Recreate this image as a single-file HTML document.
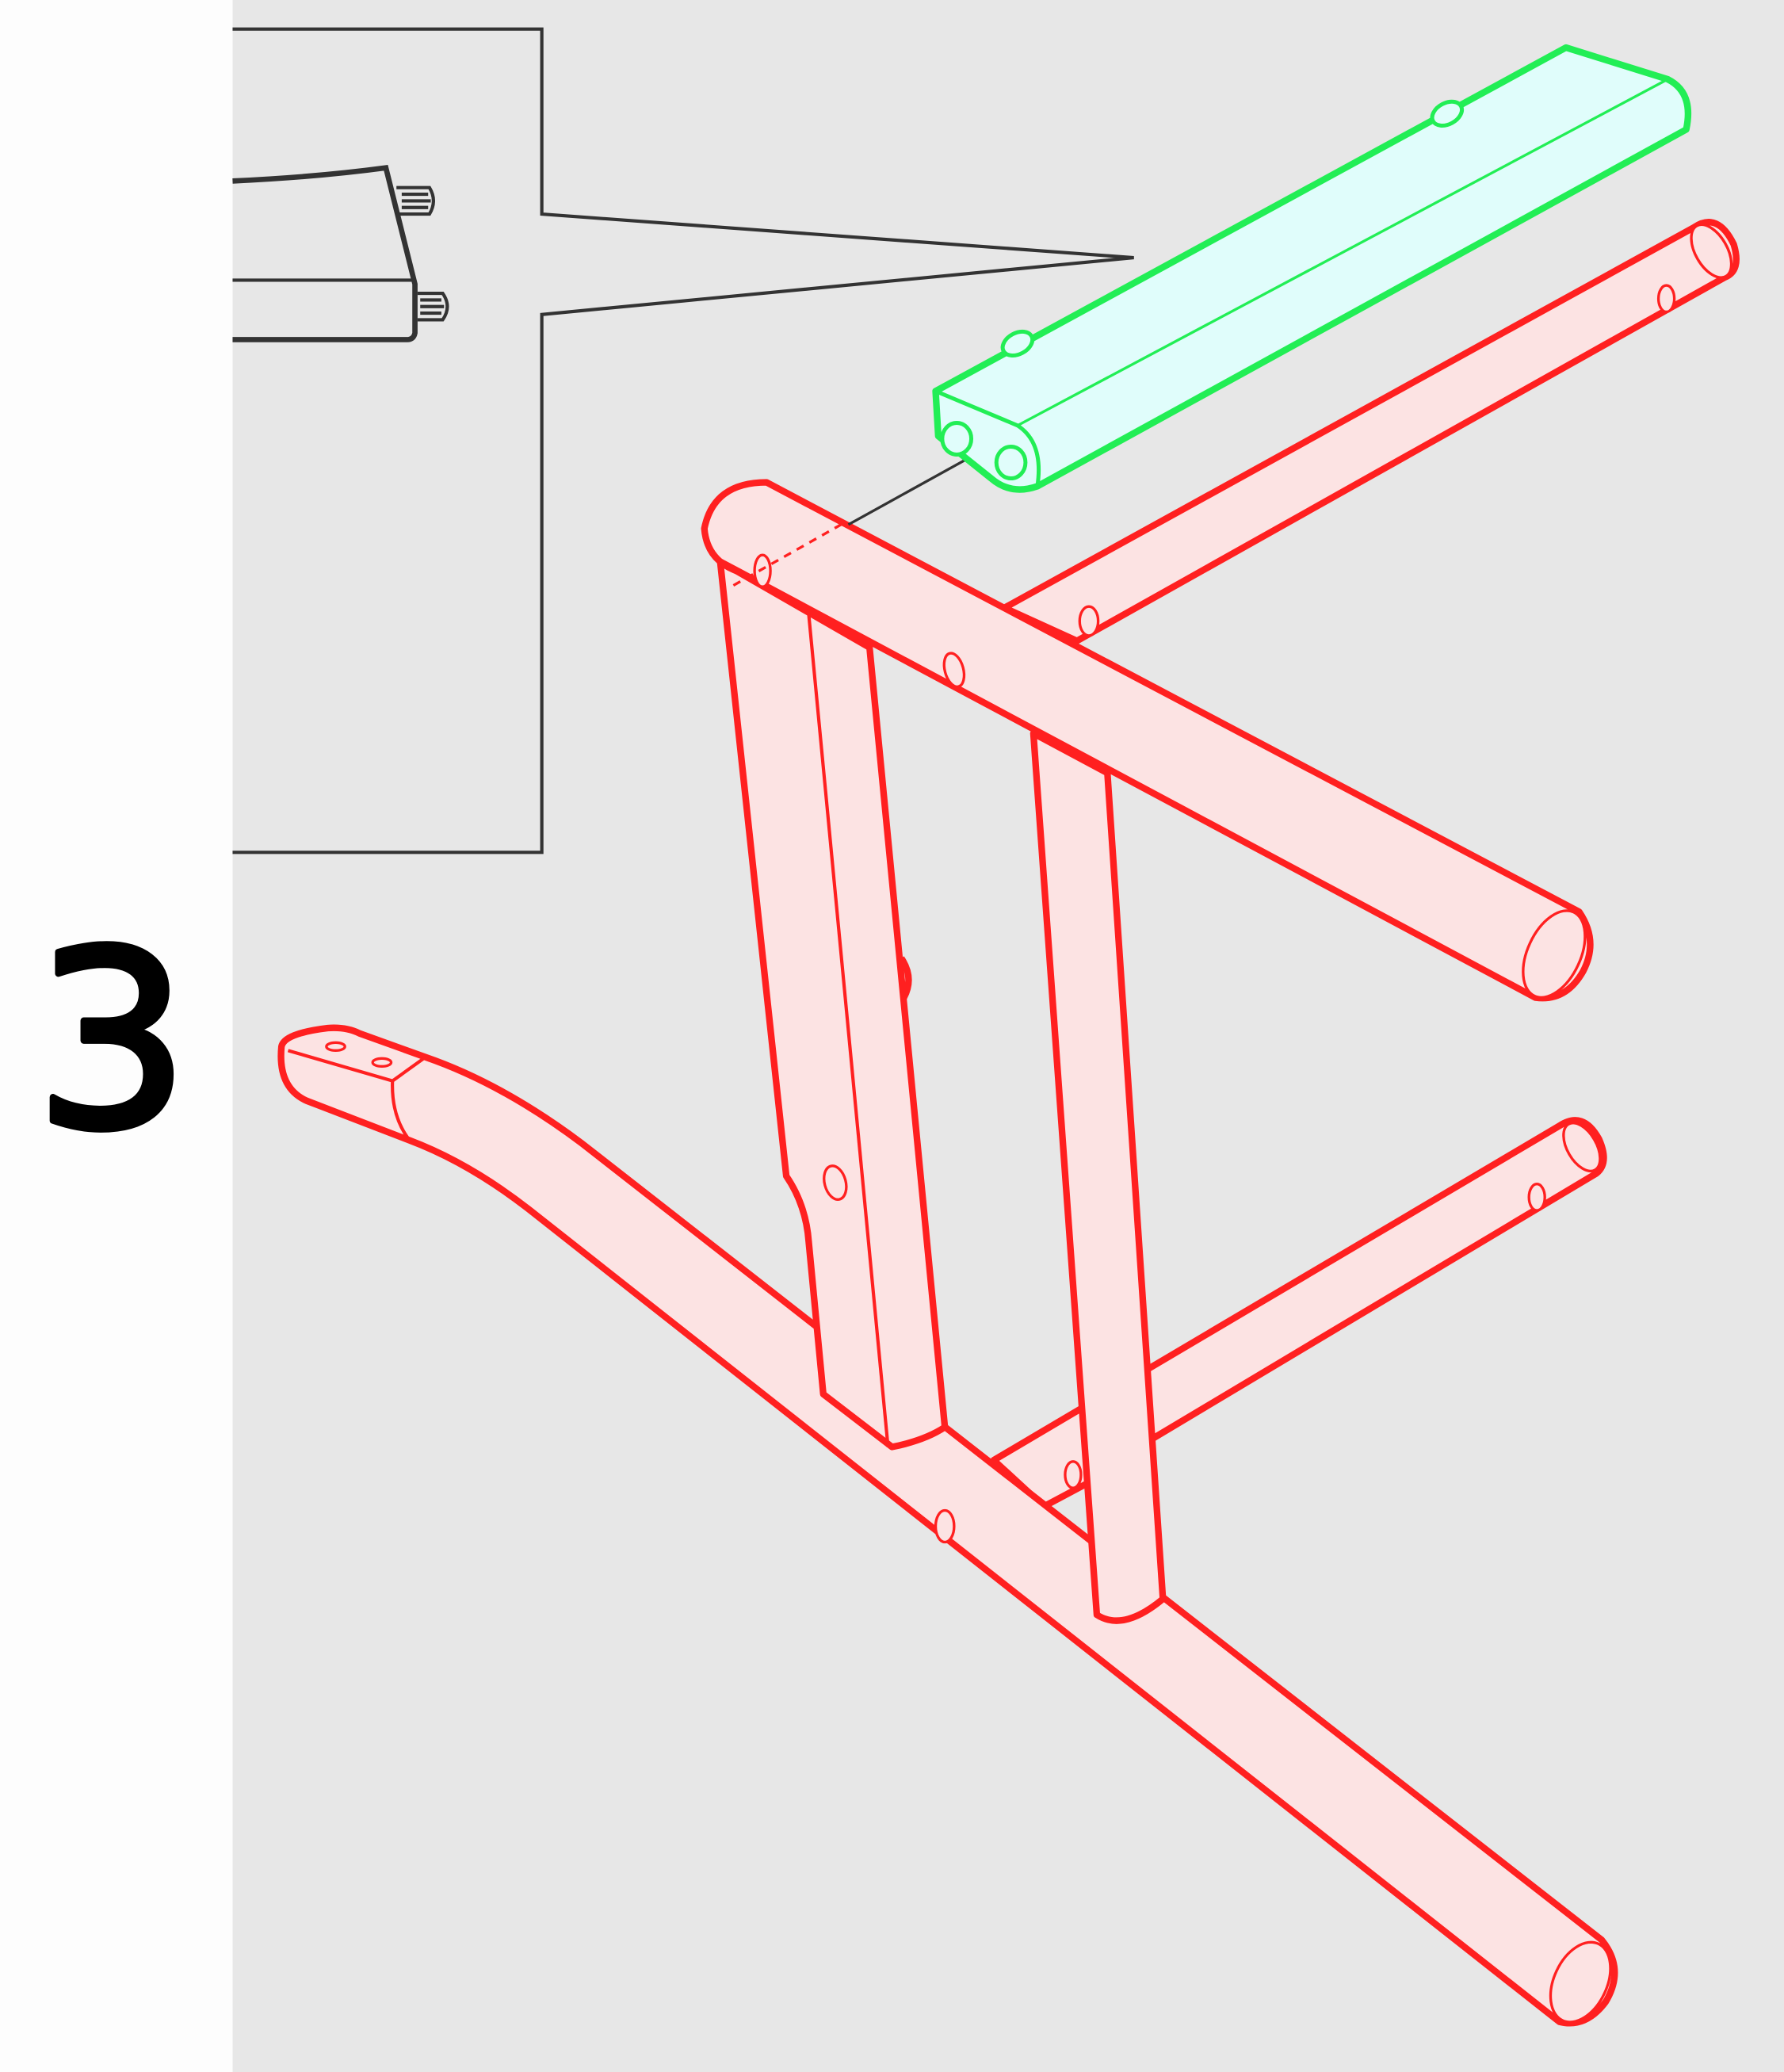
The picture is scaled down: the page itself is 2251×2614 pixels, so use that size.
<!DOCTYPE html>
<html><head><meta charset="utf-8"><style>
html,body{margin:0;padding:0;background:#fff}
svg{display:block}
</style></head><body>
<svg width="2251" height="2614" viewBox="0 0 1350 1568" preserveAspectRatio="none" xmlns="http://www.w3.org/2000/svg">
<rect x="0" y="0" width="176" height="1568" fill="#fdfdfd"/>
<rect x="176" y="0" width="1174" height="1568" fill="#e7e7e7"/>

<g fill="none" stroke="#333" stroke-width="2.5">
<path d="M176 22 H410 V162 L858 195 L410 238 V645 H176"/>
<g stroke-width="4">
<path d="M176 137 Q240 134 292 127 L314 215 V252 Q313 257 308 257 H176"/>
<path d="M176 212 H314" stroke-width="2.5"/>
</g>
<g stroke-width="2.5">
<path d="M300 142 H325 Q331 152 325 162 H300"/><path d="M304 147 H324 M304 152 H326 M304 157 H324"/>
<path d="M316 222 H335 Q342 232 335 242 H316"/><path d="M318 227 H334 M318 232 H336 M318 237 H334"/>
</g>
</g>

<text x="26" y="852" font-family="DejaVu Sans, sans-serif" font-size="185" font-weight="normal" fill="#000" stroke="#000" stroke-width="5" stroke-linejoin="round">3</text>

<g fill="#fce3e3" stroke="#ff2020" stroke-width="5" stroke-linejoin="round">
<path d="M760 460 L1282 172 Q1300 160 1312 185 Q1318 205 1305 210 L815 485 Z"/>
<ellipse cx="1295" cy="190" rx="12" ry="22" transform="rotate(-30 1295 190)" stroke-width="2"/>
<ellipse cx="1261" cy="226" rx="6" ry="10" stroke-width="2"/>
<ellipse cx="824" cy="470" rx="7" ry="11" stroke-width="2"/>

<path d="M752 1105 L1180 852 Q1198 840 1210 862 Q1218 880 1208 888 L870 1090 L865 1100 L790 1140 Z"/>
<ellipse cx="1197" cy="868" rx="11" ry="20" transform="rotate(-30 1197 868)" stroke-width="2"/>
<ellipse cx="1163" cy="906" rx="6" ry="10" stroke-width="2"/>
<ellipse cx="812" cy="1116" rx="6" ry="10" stroke-width="2"/>

<path d="M213 792 Q215 782 248 778 Q262 777 272 782 L322 800 Q380 820 440 865 L1212 1468 Q1230 1490 1215 1515 Q1200 1535 1180 1530 L400 915 Q355 880 310 863 L232 833 Q210 823 213 792 Z"/>
<path d="M218 795 L297 818 L322 800 M297 818 Q296 845 310 863" fill="none" stroke-width="2.5"/>
<ellipse cx="1196" cy="1500" rx="20" ry="32" transform="rotate(25 1196 1500)" stroke-width="2"/>
<ellipse cx="254" cy="792" rx="7" ry="3" stroke-width="2"/>
<ellipse cx="289" cy="804" rx="7" ry="3" stroke-width="2"/>
<ellipse cx="715" cy="1155" rx="7" ry="12" stroke-width="2"/>

<path d="M545 425 L595 890 Q610 912 612 940 L623 1055 L675 1095 Q700 1090 715 1080 L658 490 Z"/>
<path d="M612 465 L672 1095" fill="none" stroke-width="2.5"/>
<ellipse cx="632" cy="895" rx="8" ry="13" transform="rotate(-15 632 895)" stroke-width="2"/>
<path d="M682 725 Q692 740 684 755" fill="none"/>

<path d="M782 555 L830 1222 Q850 1235 880 1210 L838 585 Z"/>

<path d="M580 365 L1195 690 Q1210 712 1198 735 Q1185 758 1162 755 L560 433 Q535 425 533 400 Q540 365 580 365 Z"/>
<path d="M560 433 L545 425" fill="none"/>
<ellipse cx="1176" cy="722" rx="20" ry="35" transform="rotate(25 1176 722)" stroke-width="2"/>
<ellipse cx="577" cy="432" rx="6" ry="12" stroke-width="2"/>
<ellipse cx="722" cy="507" rx="7" ry="13" transform="rotate(-15 722 507)" stroke-width="2"/>
<path d="M555 443 L640 395" fill="none" stroke-width="2" stroke-dasharray="6 5"/>
</g>

<path d="M642 397 L745 340" fill="none" stroke="#333" stroke-width="2"/>

<g fill="#e0fdfb" stroke="#22ee55" stroke-width="5" stroke-linejoin="round">
<path d="M708 296 L1185 36 L1262 60 Q1282 70 1276 98 L785 368 Q765 375 750 362 L710 330 Z"/>
<path d="M708 296 L770 322 Q790 335 785 368" fill="none" stroke-width="3"/>
<path d="M770 322 L1262 60" fill="none" stroke-width="2"/>
<ellipse cx="724" cy="332" rx="11" ry="12" stroke-width="3"/>
<ellipse cx="765" cy="350" rx="11" ry="12" stroke-width="3"/>
<ellipse cx="1095" cy="86" rx="12" ry="8" transform="rotate(-28 1095 86)" stroke-width="3"/>
<ellipse cx="770" cy="260" rx="12" ry="8" transform="rotate(-28 770 260)" stroke-width="3"/>
</g>
</svg>
</body></html>
